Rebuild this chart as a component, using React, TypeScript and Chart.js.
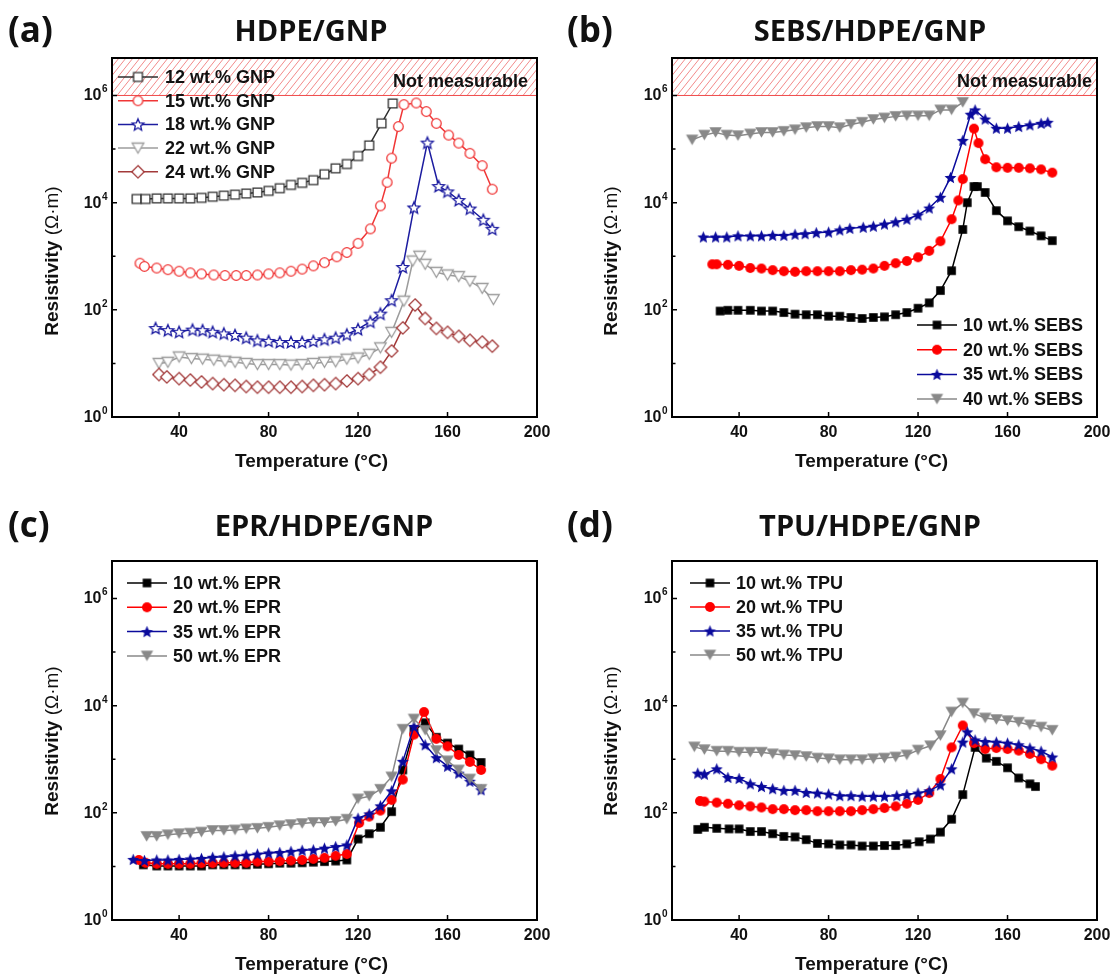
import React, { useEffect, useRef } from 'react';
import { Chart, registerables } from 'chart.js';
Chart.register(...registerables);

// ---------- Panel (a) HDPE/GNP ----------
const aTemp12 = [21, 25, 30, 35, 40, 45, 50, 55, 60, 65, 70, 75, 80, 85, 90, 95, 100, 105, 110, 115, 120, 125, 130.5, 135.5];
const aRes12 = [11700, 11700, 12000, 12000, 12000, 12000, 12300, 12900, 13500, 14100, 14800, 15500, 16600, 18600, 21400, 23400, 26300, 33900, 43700, 52500, 74100, 117000, 302000, 708000];
const aTemp15 = [22.5, 24.5, 30, 35, 40, 45, 50, 55.5, 60.5, 65.5, 70, 75, 80, 85, 90, 95, 100, 105, 110.5, 115, 120, 125.5, 130, 133, 135, 138, 140.5, 146, 150.5, 155, 160.5, 165, 170, 175.5, 180];
const aRes15 = [741, 646, 603, 562, 525, 490, 468, 447, 437, 437, 437, 447, 468, 490, 525, 575, 661, 759, 977, 1175, 1740, 3240, 8710, 24000, 67600, 263000, 676000, 724000, 501000, 302000, 182000, 129000, 83200, 49000, 17800];
const aTemp18 = [29.5, 35, 40, 46, 50.5, 55, 60, 65, 70, 75, 80, 85, 90, 95, 100, 105, 110, 115, 120, 125.5, 130, 135, 140, 145, 151, 156, 160, 165, 170, 176, 180];
const aRes18 = [45.7, 41.7, 38.9, 42.7, 41.7, 38.9, 36.3, 33.9, 30.2, 26.9, 26.3, 25.1, 25.1, 25.1, 26.3, 28.2, 30.2, 34.7, 43.7, 60.3, 85.1, 151, 631, 8130, 132000, 20400, 16200, 11200, 7760, 4790, 3240];
const aTemp22 = [31, 35, 40, 45.5, 50.5, 55.5, 60.5, 65, 70, 75, 80, 85, 90, 95, 100, 105, 110, 115, 120, 125, 130, 135, 140.5, 144.5, 147.5, 150, 155, 160, 165, 170, 175.5, 180.5];
const aRes22 = [10, 10.5, 13.2, 12.3, 12, 11.5, 11, 10.5, 10, 9.5, 9.5, 9.5, 9.3, 9.5, 10, 10.5, 10.7, 12, 12.6, 14.8, 19.5, 38, 145, 813, 1000, 708, 501, 447, 417, 339, 251, 155];
const aTemp24 = [31, 34.5, 40, 45, 50, 55, 60, 65, 70, 75, 80, 85, 90, 95, 100, 105, 110, 115, 120, 125, 130, 135, 140, 145.5, 150, 155, 160, 165, 170, 175.5, 180];
const aRes24 = [6.2, 5.6, 5.2, 4.9, 4.5, 4.2, 4.0, 3.9, 3.7, 3.6, 3.6, 3.6, 3.6, 3.7, 3.9, 4.0, 4.2, 4.7, 5.2, 6.2, 8.5, 17, 46, 123, 69, 45, 38, 32, 27, 25, 21];

// ---------- Panel (b) SEBS/HDPE/GNP ----------
const bTemp10 = [31.5, 35, 39.5, 45, 50, 55, 60, 65, 70, 75, 80, 85, 90, 95, 100, 105, 110, 115, 120, 125, 130, 135, 140, 142, 145, 146.5, 150, 155, 160, 165, 170, 175, 180];
const bRes10 = [95, 98, 98, 98, 95, 95, 89, 83, 81, 81, 76, 76, 72, 69, 72, 74, 81, 89, 107, 135, 229, 537, 3160, 10000, 20000, 20000, 15500, 7080, 4570, 3550, 2950, 2400, 1950];
const bTemp20 = [28, 30, 35, 40, 45, 50, 55, 60, 65, 70, 75, 80, 85, 90, 95, 100, 105, 110, 115, 120, 125, 130, 135, 138, 140, 145, 147, 150, 155, 160, 165, 170, 175, 180];
const bRes20 = [708, 708, 692, 661, 603, 589, 550, 525, 513, 525, 525, 525, 525, 550, 562, 589, 661, 741, 813, 955, 1260, 1905, 4900, 11000, 27500, 240000, 129000, 64600, 45700, 44700, 44700, 43600, 41700, 36300];
const bTemp35 = [24, 29.5, 34.5, 39.5, 45, 50, 55, 60, 65, 69.5, 74.5, 80, 85, 89.5, 95.5, 100, 105, 110, 115, 120, 125, 130, 134.5, 140, 143.5, 145.5, 150, 155, 160, 165, 170, 175, 178];
const bRes35 = [2290, 2290, 2290, 2400, 2400, 2400, 2450, 2450, 2570, 2630, 2750, 2820, 3090, 3310, 3470, 3630, 3980, 4370, 4900, 5890, 7940, 12600, 29500, 145000, 447000, 537000, 363000, 245000, 245000, 263000, 282000, 302000, 316000];
const bTemp40 = [19, 24.5, 29.5, 34.5, 39.5, 45, 50, 55, 60, 65, 70, 75, 80, 85, 90, 95, 100, 105, 110, 115, 120, 125, 130, 135, 140];
const bRes40 = [148000, 182000, 204000, 182000, 178000, 191000, 204000, 204000, 214000, 229000, 251000, 263000, 263000, 251000, 288000, 316000, 355000, 380000, 407000, 417000, 417000, 417000, 537000, 537000, 741000];

// ---------- Panel (c) EPR/HDPE/GNP ----------
const cTemp10 = [24, 30, 35, 40, 45, 50, 55, 60, 65, 70, 75, 80, 85, 90, 95, 100, 105, 110, 115, 120, 125, 130, 135, 140, 145, 150, 155, 160, 165, 170, 175];
const cRes10 = [10.7, 10.2, 10.2, 10.2, 10.2, 10.2, 10.7, 10.7, 10.7, 10.7, 11, 11.2, 11.5, 11.5, 11.7, 12, 12.3, 12.6, 13.2, 32.4, 40.7, 53.7, 105, 631, 3550, 4790, 2570, 2000, 1550, 1200, 871];
const cTemp20 = [22, 25, 30, 35, 40, 45, 50, 55, 60, 65, 70, 75, 80, 85, 90, 95, 100, 105, 110, 115, 120.5, 125, 130, 135, 140, 145, 149.5, 155, 160, 165, 170, 175];
const cRes20 = [13.2, 11.7, 11.2, 11.2, 11.2, 11.2, 11.5, 11.5, 11.7, 11.7, 11.7, 12.3, 12.3, 12.6, 12.9, 13.2, 13.8, 14.5, 15.8, 17, 64.6, 85.1, 110, 174, 417, 2880, 7590, 2400, 1740, 1200, 891, 631];
const cTemp35 = [19.5, 24.5, 30, 35, 40, 45, 50, 55, 60, 65, 70, 75, 80, 85, 90, 95, 100, 105, 110, 115, 120, 125, 130, 135, 140, 145, 150, 155, 160, 165, 170, 175];
const cRes35 = [13.5, 12.9, 13.2, 13.2, 13.5, 13.8, 14.1, 14.8, 15.1, 15.8, 16.2, 17, 17.8, 18.2, 19.1, 20, 20.4, 21.9, 23.4, 25.1, 79.4, 95.5, 135, 257, 912, 4070, 1860, 1070, 741, 550, 389, 269];
const cTemp50 = [25.5, 30, 35, 40, 45, 50, 55, 60, 65, 70, 75, 80, 85, 90, 95, 100, 105, 110, 115, 120, 125, 130, 135, 140, 145, 150, 155, 160, 165, 170, 175];
const cRes50 = [36.3, 36.3, 38.9, 40.7, 41.7, 43.7, 46.8, 46.8, 47.9, 50.1, 51.3, 53.7, 57.5, 60.3, 63.1, 66.1, 66.1, 69.2, 75.9, 182, 204, 275, 468, 3630, 5620, 3470, 1450, 933, 631, 427, 275];

// ---------- Panel (d) TPU/HDPE/GNP ----------
const dTemp10 = [21.5, 24.5, 30, 35.5, 40, 45, 50, 55, 60, 65, 70, 75, 80, 85, 90, 95, 100, 105, 110, 115, 120.5, 125.5, 130, 135, 140, 145.5, 150.5, 155, 160, 165, 170, 172.5];
const dRes10 = [49, 53.7, 51.3, 50.1, 50.1, 44.7, 44.7, 40.7, 36.3, 35.5, 31.6, 26.9, 26.3, 25.1, 25.1, 24, 24, 24.5, 24.5, 26.3, 28.8, 32.4, 43.7, 75.9, 219, 1660, 1050, 912, 692, 447, 347, 309];
const dTemp20 = [22.5, 24.5, 30, 35, 40, 45, 50, 55, 60, 65, 70, 75, 80, 85, 90, 95, 100, 105, 110, 115, 120, 125, 130, 135, 140, 145, 150, 155, 160, 165, 170, 175, 180];
const dRes20 = [166, 162, 155, 148, 138, 132, 126, 117, 117, 112, 112, 107, 107, 107, 107, 112, 117, 123, 132, 148, 174, 234, 427, 1660, 4270, 2000, 1550, 1620, 1550, 1450, 1260, 1000, 759];
const dTemp35 = [21.5, 24.5, 30, 35, 40, 45, 50, 55, 60, 65, 70, 75, 80, 85, 90, 95, 100, 105, 110.5, 115, 120, 125, 130, 135, 140, 142, 145.5, 150, 155, 160, 165, 170, 175, 180];
const dRes35 = [550, 525, 661, 457, 437, 347, 309, 282, 263, 263, 240, 234, 224, 209, 209, 204, 204, 204, 209, 219, 234, 257, 331, 661, 2090, 3240, 2290, 2140, 2090, 2000, 1860, 1620, 1410, 1100];
const dTemp50 = [20, 24.5, 30, 35, 40, 45, 50, 55, 60, 65, 70, 75, 80, 85, 90, 95, 100, 105, 110, 115, 120, 125.5, 130, 135, 140, 145, 150, 155, 160, 165, 170, 175, 180];
const dRes50 = [1700, 1510, 1410, 1410, 1350, 1350, 1350, 1260, 1200, 1170, 1120, 1050, 1020, 977, 977, 977, 1020, 1050, 1100, 1200, 1480, 1780, 2750, 7590, 11200, 7080, 5890, 5500, 5250, 4900, 4370, 3980, 3470];

// ---------- Axis ticks ----------
const xTicks = [40, 80, 120, 160, 200];
const yMajor = [1, 100, 10000, 1000000];
const yMajorExp = ['0', '2', '4', '6'];
const yMinor = [10, 1000, 100000];

type Shape = 'square' | 'circle' | 'star' | 'triDown' | 'diamond';
interface SeriesCfg { label: string; t: number[]; r: number[]; line: string; shape: Shape; size: number; fill: string; stroke: string; lw: number; }
interface PanelCfg {
  letter: string; title: string; titleX: number; headY: number;
  left: number; top: number;
  pad: { left: number; top: number; right: number; bottom: number };
  hatch: boolean; hatchRightGap: number;
  series: SeriesCfg[];
  legend: { x: number; textX: number; y0: number; dy: number };
  yTitleY: number;
}

const CW = 559, CH = 489;
const SANS = '"Liberation Sans", Arial, sans-serif';
const HEAD = '"Open Sans", sans-serif';

function hollow(label: string, t: number[], r: number[], color: string, shape: Shape, size: number): SeriesCfg {
  return { label, t, r, line: color, shape, size, fill: '#ffffff', stroke: color, lw: 1.3 };
}
function solid(label: string, t: number[], r: number[], color: string, shape: Shape, size: number): SeriesCfg {
  return { label, t, r, line: color, shape, size, fill: color, stroke: color, lw: 0 };
}

const panels: PanelCfg[] = [
  {
    letter: '(a)', title: 'HDPE/GNP', titleX: 311, headY: 33, left: 0, top: 0,
    pad: { left: 112, top: 58, right: 22, bottom: 72 }, hatch: true, hatchRightGap: 9,
    series: [
      hollow('12 wt.% GNP', aTemp12, aRes12, '#2e2e2e', 'square', 4.4),
      hollow('15 wt.% GNP', aTemp15, aRes15, '#f03636', 'circle', 4.8),
      hollow('18 wt.% GNP', aTemp18, aRes18, '#1c1ca0', 'star', 6.2),
      hollow('22 wt.% GNP', aTemp22, aRes22, '#9c9c9c', 'triDown', 5.8),
      hollow('24 wt.% GNP', aTemp24, aRes24, '#a33a3a', 'diamond', 6.2),
    ],
    legend: { x: 118, textX: 165, y0: 77, dy: 23.7 }, yTitleY: 261,
  },
  {
    letter: '(b)', title: 'SEBS/HDPE/GNP', titleX: 311, headY: 33, left: CW, top: 0,
    pad: { left: 113, top: 58, right: 21, bottom: 72 }, hatch: true, hatchRightGap: 5,
    series: [
      solid('10 wt.% SEBS', bTemp10, bRes10, '#000000', 'square', 4.3),
      solid('20 wt.% SEBS', bTemp20, bRes20, '#ff0000', 'circle', 5),
      solid('35 wt.% SEBS', bTemp35, bRes35, '#0a0a9c', 'star', 6.3),
      solid('40 wt.% SEBS', bTemp40, bRes40, '#888888', 'triDown', 6.2),
    ],
    legend: { x: 358, textX: 404, y0: 325, dy: 24.7 }, yTitleY: 261,
  },
  {
    letter: '(c)', title: 'EPR/HDPE/GNP', titleX: 324, headY: 39, left: 0, top: CH,
    pad: { left: 112, top: 72, right: 22, bottom: 58 }, hatch: false, hatchRightGap: 0,
    series: [
      solid('10 wt.% EPR', cTemp10, cRes10, '#000000', 'square', 4.3),
      solid('20 wt.% EPR', cTemp20, cRes20, '#ff0000', 'circle', 5),
      solid('35 wt.% EPR', cTemp35, cRes35, '#0a0a9c', 'star', 6.3),
      solid('50 wt.% EPR', cTemp50, cRes50, '#888888', 'triDown', 6.2),
    ],
    legend: { x: 127, textX: 173, y0: 94, dy: 24.3 }, yTitleY: 252,
  },
  {
    letter: '(d)', title: 'TPU/HDPE/GNP', titleX: 311, headY: 39, left: CW, top: CH,
    pad: { left: 113, top: 72, right: 21, bottom: 58 }, hatch: false, hatchRightGap: 0,
    series: [
      solid('10 wt.% TPU', dTemp10, dRes10, '#000000', 'square', 4.3),
      solid('20 wt.% TPU', dTemp20, dRes20, '#ff0000', 'circle', 5),
      solid('35 wt.% TPU', dTemp35, dRes35, '#0a0a9c', 'star', 6.3),
      solid('50 wt.% TPU', dTemp50, dRes50, '#888888', 'triDown', 6.2),
    ],
    legend: { x: 131, textX: 177, y0: 94, dy: 24 }, yTitleY: 252,
  },
];

function makeMarker(s: SeriesCfg): HTMLCanvasElement {
  const r = s.size;
  const S = Math.ceil(2 * r + s.lw + 4);
  const c = document.createElement('canvas');
  c.width = S; c.height = S;
  const ctx = c.getContext('2d')!;
  const cx = S / 2, cy = S / 2;
  ctx.beginPath();
  if (s.shape === 'square') {
    ctx.rect(cx - r, cy - r, 2 * r, 2 * r);
  } else if (s.shape === 'circle') {
    ctx.arc(cx, cy, r, 0, Math.PI * 2);
  } else if (s.shape === 'diamond') {
    ctx.moveTo(cx, cy - r); ctx.lineTo(cx + r, cy); ctx.lineTo(cx, cy + r); ctx.lineTo(cx - r, cy); ctx.closePath();
  } else if (s.shape === 'triDown') {
    const h = r * 0.866;
    ctx.moveTo(cx - r, cy - h); ctx.lineTo(cx + r, cy - h); ctx.lineTo(cx, cy + h); ctx.closePath();
  } else {
    for (let i = 0; i < 10; i++) {
      const rr = i % 2 === 0 ? r : r * 0.45;
      const a = -Math.PI / 2 + (i * Math.PI) / 5;
      const px = cx + rr * Math.cos(a), py = cy + r * 0.1 + rr * Math.sin(a);
      if (i === 0) ctx.moveTo(px, py); else ctx.lineTo(px, py);
    }
    ctx.closePath();
  }
  ctx.fillStyle = s.fill;
  ctx.fill();
  if (s.lw > 0) { ctx.lineWidth = s.lw; ctx.strokeStyle = s.stroke; ctx.lineJoin = 'miter'; ctx.stroke(); }
  return c;
}

function makeOverlay(cfg: PanelCfg, markers: HTMLCanvasElement[]) {
  return {
    id: 'overlay_' + cfg.letter,
    beforeDatasetsDraw(chart: any) {
      if (!cfg.hatch) return;
      const ctx: CanvasRenderingContext2D = chart.ctx;
      const { left, right, top } = chart.chartArea;
      const y6 = chart.scales.y.getPixelForValue(1e6);
      const h = y6 - top;
      ctx.save();
      ctx.beginPath(); ctx.rect(left, top, right - left, h); ctx.clip();
      ctx.strokeStyle = '#f28a8a'; ctx.lineWidth = 1;
      ctx.beginPath();
      const dx = h * 0.8;
      for (let x = left - dx; x < right + dx; x += 7) { ctx.moveTo(x, y6); ctx.lineTo(x + dx, top); }
      ctx.stroke();
      ctx.restore();
      ctx.save();
      ctx.strokeStyle = '#f04a4a'; ctx.lineWidth = 1;
      ctx.strokeRect(left + 0.5, top + 0.5, right - left - 1, h - 0.5);
      ctx.fillStyle = '#111';
      ctx.font = 'bold 18px ' + SANS;
      ctx.textAlign = 'right'; ctx.textBaseline = 'alphabetic';
      ctx.fillText('Not measurable', right - cfg.hatchRightGap, top + 29);
      ctx.restore();
    },
    afterDatasetsDraw(chart: any) {
      const ctx: CanvasRenderingContext2D = chart.ctx;
      const { left, right, top, bottom } = chart.chartArea;
      const xs = chart.scales.x, ys = chart.scales.y;
      ctx.save();
      // frame
      ctx.strokeStyle = '#000'; ctx.lineWidth = 2;
      ctx.strokeRect(left, top, right - left, bottom - top);
      // ticks
      ctx.lineWidth = 1.5;
      ctx.beginPath();
      xTicks.forEach((v) => { const x = xs.getPixelForValue(v); ctx.moveTo(x, bottom); ctx.lineTo(x, bottom - 5); });
      yMajor.forEach((v) => { const y = ys.getPixelForValue(v); ctx.moveTo(left, y); ctx.lineTo(left + 5, y); });
      yMinor.forEach((v) => { const y = ys.getPixelForValue(v); ctx.moveTo(left, y); ctx.lineTo(left + 3.5, y); });
      ctx.stroke();
      // x tick labels
      ctx.fillStyle = '#111';
      ctx.font = 'bold 16px ' + SANS;
      ctx.textAlign = 'center'; ctx.textBaseline = 'alphabetic';
      xTicks.forEach((v) => ctx.fillText(String(v), xs.getPixelForValue(v), bottom + 20));
      // y tick labels 10^n
      yMajor.forEach((v, i) => {
        const y = ys.getPixelForValue(v);
        ctx.font = 'bold 16px ' + SANS;
        const w10 = ctx.measureText('10').width;
        ctx.font = 'bold 10px ' + SANS;
        const ws = ctx.measureText(yMajorExp[i]).width;
        const x0 = left - 5 - w10 - ws;
        ctx.textAlign = 'left';
        ctx.font = 'bold 16px ' + SANS;
        ctx.fillText('10', x0, y + 5);
        ctx.font = 'bold 10px ' + SANS;
        ctx.fillText(yMajorExp[i], x0 + w10 + 0.5, y - 3);
      });
      // x axis title
      ctx.font = 'bold 19px ' + SANS;
      ctx.textAlign = 'center'; ctx.textBaseline = 'middle';
      ctx.fillText('Temperature (°C)', (left + right) / 2 - 13, bottom + 45);
      // y axis title
      ctx.save();
      ctx.translate(53, cfg.yTitleY);
      ctx.rotate(-Math.PI / 2);
      const p1 = 'Resistivity ', p2 = '(Ω·m)';
      ctx.font = 'bold 19px ' + SANS;
      const w1 = ctx.measureText(p1).width;
      ctx.font = '19px ' + SANS;
      const w2 = ctx.measureText(p2).width;
      ctx.textAlign = 'left'; ctx.textBaseline = 'middle';
      ctx.font = 'bold 19px ' + SANS;
      ctx.fillText(p1, -(w1 + w2) / 2, 0);
      ctx.font = '19px ' + SANS;
      ctx.fillText(p2, -(w1 + w2) / 2 + w1, 0);
      ctx.restore();
      // panel letter and title
      ctx.fillStyle = '#111';
      ctx.font = 'bold 35px ' + HEAD;
      ctx.textAlign = 'left'; ctx.textBaseline = 'middle';
      ctx.fillText(cfg.letter, 8, cfg.headY - 1);
      ctx.font = 'bold 29px ' + HEAD;
      ctx.textAlign = 'center';
      ctx.fillText(cfg.title, cfg.titleX, cfg.headY);
      // legend
      const lg = cfg.legend;
      cfg.series.forEach((s, i) => {
        const y = lg.y0 + i * lg.dy;
        ctx.strokeStyle = s.line; ctx.lineWidth = 1.5;
        ctx.beginPath(); ctx.moveTo(lg.x, y); ctx.lineTo(lg.x + 40, y); ctx.stroke();
        const m = markers[i];
        ctx.drawImage(m, lg.x + 20 - m.width / 2, y - m.height / 2);
        ctx.fillStyle = '#111';
        ctx.font = 'bold 18px ' + SANS;
        ctx.textAlign = 'left'; ctx.textBaseline = 'middle';
        ctx.fillText(s.label, lg.textX, y + 1);
      });
      ctx.restore();
    },
  };
}

function Panel({ cfg }: { cfg: PanelCfg }) {
  const ref = useRef<HTMLCanvasElement>(null);
  useEffect(() => {
    const markers = cfg.series.map(makeMarker);
    const n = cfg.series.length;
    const chart = new Chart(ref.current!, {
      type: 'scatter',
      data: {
        datasets: cfg.series.map((s, i) => ({
          label: s.label,
          data: s.t.map((x, k) => ({ x, y: s.r[k] })),
          showLine: true,
          borderColor: s.line,
          borderWidth: 1.5,
          backgroundColor: s.fill,
          pointStyle: markers[i] as any,
          pointRadius: 4,
          pointHoverRadius: 4,
          tension: 0,
          order: n - i,
        })),
      },
      options: {
        responsive: false,
        animation: false,
        devicePixelRatio: 1,
        events: [],
        layout: { padding: cfg.pad },
        plugins: { legend: { display: false }, tooltip: { enabled: false }, title: { display: false } },
        scales: {
          x: { type: 'linear', min: 10, max: 200, display: false },
          y: { type: 'logarithmic', min: 1, max: 5e6, display: false },
        },
      },
      plugins: [makeOverlay(cfg, markers)],
    } as any);
    return () => chart.destroy();
  }, [cfg]);
  return (
    <canvas
      ref={ref}
      width={CW}
      height={CH}
      style={{ position: 'absolute', left: cfg.left, top: cfg.top, width: CW, height: CH }}
    />
  );
}

export default function App() {
  return (
    <div style={{ position: 'absolute', left: 0, top: 0, width: 1118, height: 978, background: '#ffffff', overflow: 'hidden' }}>
      {panels.map((p) => <Panel key={p.letter} cfg={p} />)}
    </div>
  );
}
